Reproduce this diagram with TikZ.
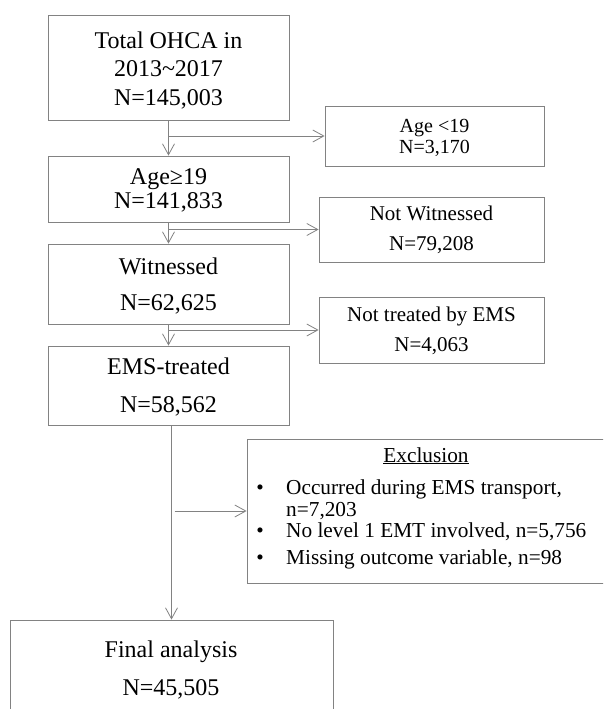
\documentclass[tikz,border=0pt]{standalone}
\usepackage{fontspec}
\setmainfont{Liberation Serif}
\usetikzlibrary{arrows.meta,calc}
\definecolor{linegray}{RGB}{130,130,130}
\begin{document}
\begin{tikzpicture}[x=1pt,y=-1pt,
  box/.style={draw=linegray, line width=0.8pt, inner sep=0pt},
  maintext/.style={font=\fontsize{24}{28}\selectfont, anchor=base, inner sep=0pt},
  sidetext/.style={font=\fontsize{21}{25}\selectfont, anchor=base, inner sep=0pt},
  smalltext/.style={font=\fontsize{20}{24}\selectfont, anchor=base, inner sep=0pt},
  extext/.style={font=\fontsize{21.3}{24}\selectfont, anchor=base west, inner sep=0pt},
  arr/.style={draw=linegray, line width=0.8pt, -{Straight Barb[length=11pt,width=12pt]}}]
\useasboundingbox (0,0) rectangle (603,709);
\clip (0,0) rectangle (603,709);
\fill[white] (0,0) rectangle (603,709);

% main boxes
\node[box, minimum width=241pt, minimum height=105pt] (b1) at (168.5,67.5) {};
\node[box, minimum width=241pt, minimum height=66pt] (b2) at (168.5,189) {};
\node[box, minimum width=241pt, minimum height=80pt] (b3) at (168.5,284) {};
\node[box, minimum width=241pt, minimum height=79pt] (b4) at (168.5,385.5) {};
\node[box, minimum width=323pt, minimum height=98pt] (fin) at (171.5,669) {};

% side boxes
\node[box, minimum width=219pt, minimum height=60pt] (a1) at (434.5,136) {};
\node[box, minimum width=225pt, minimum height=65pt] (a2) at (431.5,229.5) {};
\node[box, minimum width=225pt, minimum height=66pt] (a3) at (431.5,330) {};
\node[box, minimum width=360pt, minimum height=144pt] (ex) at (427,511) {};

% texts
\node[maintext] (t1a) at (168.5,48.3) {Total OHCA in};
\node[maintext] (t1b) at (168.5,77) {2013\textasciitilde 2017};
\node[maintext] (t1c) at (168.5,105) {N=145,003};
\node[maintext] (t2a) at (168.5,184) {Age≥19};
\node[maintext] (t2b) at (168.5,208) {N=141,833};
\node[maintext] (t3a) at (168.5,274) {Witnessed};
\node[maintext] (t3b) at (168.5,310) {N=62,625};
\node[maintext] (t4a) at (168.5,374) {EMS-treated};
\node[maintext] (t4b) at (168.5,412) {N=58,562};
\node[maintext] (t5a) at (171,657) {Final analysis};
\node[maintext] (t5b) at (171,695) {N=45,505};

\node[smalltext] (s1a) at (434.5,132.7) {Age <19};
\node[smalltext] (s1b) at (434.5,153) {N=3,170};
\node[sidetext] (s2a) at (431.5,220.7) {Not Witnessed};
\node[sidetext] (s2b) at (431.5,250) {N=79,208};
\node[sidetext] (s3a) at (431.5,321.7) {Not treated by EMS};
\node[sidetext] (s3b) at (431.5,351.7) {N=4,063};

\node[extext, anchor=base] (e0) at (426,462) {\underline{Exclusion}};
\node[extext, anchor=base] (e1b) at (260,494) {•};
\node[extext] (e1) at (286,494) {Occurred during EMS transport,};
\node[extext] (e1c) at (286,516) {n=7,203};
\node[extext, anchor=base] (e2b) at (260,537) {•};
\node[extext] (e2) at (286,537) {No level 1 EMT involved, n=5,756};
\node[extext, anchor=base] (e3b) at (260,564) {•};
\node[extext] (e3) at (286,564) {Missing outcome variable, n=98};

% connectors
\draw[arr] (b1.south) -- (b2.north);
\draw[arr] (b1.south |- a1.west) -- (a1.west);
\draw[arr] (b2.south) -- (b3.north);
\draw[arr] (b2.south |- a2.west) -- (a2.west);
\draw[arr] (b3.south) -- (b4.north);
\draw[arr] (b3.south |- a3.west) -- (a3.west);
\draw[arr] (b4.south -| fin.north) -- (fin.north);
\coordinate (xs) at ($(fin.north |- ex.west)+(3,0)$);
\draw[arr] (xs) -- (ex.west);
\end{tikzpicture}
\end{document}
